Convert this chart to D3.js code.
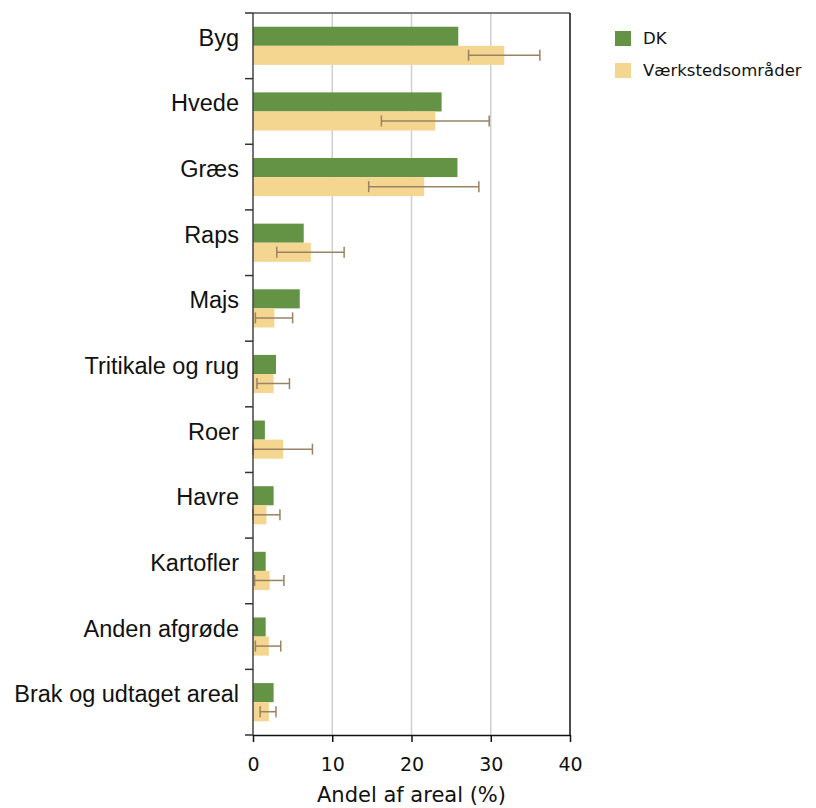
<!DOCTYPE html>
<html>
<head>
<meta charset="utf-8">
<script src="https://cdn.jsdelivr.net/npm/d3@7"></script>
<style>
  body { margin: 0; background: #fff; }
  svg { display: block; }
</style>
</head>
<body>
<svg id="chart" width="816" height="808"></svg>
<script>
// Crop shares of total area (%), national vs workshop areas
const categories = ["Byg", "Hvede", "Græs", "Raps", "Majs", "Tritikale og rug", "Roer", "Havre", "Kartofler", "Anden afgrøde", "Brak og udtaget areal"];
const dkValues = [25.9, 23.8, 25.8, 6.4, 5.9, 2.9, 1.5, 2.6, 1.6, 1.6, 2.6];
const workshopValues = [31.7, 23.0, 21.6, 7.3, 2.7, 2.6, 3.8, 1.7, 2.1, 2.0, 2.0];
const workshopLow = [27.2, 16.2, 14.6, 3.0, 0.3, 0.5, 0.0, 0.0, 0.2, 0.3, 0.9];
const workshopHigh = [36.2, 29.8, 28.5, 11.5, 5.0, 4.6, 7.5, 3.4, 3.9, 3.5, 2.9];
const xTicks = [0, 10, 20, 30, 40];
const seriesNames = ["DK", "Værkstedsområder"];
const colors = ["#659346", "#f4d690"];
const errColor = "#9a8262";

const roundFont = "'DejaVu Sans', Verdana, sans-serif";
const labelFont = "'Liberation Sans', Arial, sans-serif";

const svg = d3.select("#chart");
const margin = { left: 253, right: 246, top: 13, bottom: 73 };
const W = 816, H = 808;
const x0 = margin.left, x1 = W - margin.right;
const y0 = margin.top, y1 = H - margin.bottom;

const x = d3.scaleLinear().domain([0, 40]).range([x0, x1]);
const y = d3.scaleBand().domain(categories).range([y0, y1]);
const inner = d3.scaleBand().domain([0, 1]).range([0, y.bandwidth()]).paddingOuter(0.72).paddingInner(0);

// grid
svg.append("g").selectAll("line").data(xTicks.slice(1, -1)).join("line")
  .attr("x1", d => x(d)).attr("x2", d => x(d))
  .attr("y1", y0).attr("y2", y1)
  .attr("stroke", "#cfcfcf").attr("stroke-width", 1.5);

// bars
const rows = categories.map((c, i) => ({ c, v: [dkValues[i], workshopValues[i]], lo: workshopLow[i], hi: workshopHigh[i] }));
const g = svg.append("g");
rows.forEach(r => {
  r.v.forEach((v, k) => {
    g.append("rect")
      .attr("x", x(0)).attr("y", y(r.c) + inner(k))
      .attr("width", x(v) - x(0)).attr("height", inner.bandwidth())
      .attr("fill", colors[k]);
  });
  // error bar on the workshop series
  const cy = y(r.c) + inner(1) + inner.bandwidth() / 2;
  const eg = g.append("g").attr("stroke", errColor).attr("stroke-width", 1.5);
  eg.append("line").attr("x1", x(r.lo)).attr("x2", x(r.hi)).attr("y1", cy).attr("y2", cy);
  [r.lo, r.hi].forEach(v => {
    eg.append("line").attr("x1", x(v)).attr("x2", x(v)).attr("y1", cy - 5.5).attr("y2", cy + 5.5);
  });
});

// frame
svg.append("line").attr("x1", x0).attr("x2", x1).attr("y1", y0).attr("y2", y0).attr("stroke", "#555").attr("stroke-width", 1.5);
svg.append("line").attr("x1", x1).attr("x2", x1).attr("y1", y0).attr("y2", y1).attr("stroke", "#111").attr("stroke-width", 1.5);

// bottom axis
const xAxis = svg.append("g").attr("transform", `translate(0,${y1})`)
  .call(d3.axisBottom(x).tickValues(xTicks).tickSize(7).tickSizeOuter(0).tickPadding(16));
xAxis.select(".domain").attr("stroke", "#111").attr("stroke-width", 1.5);
xAxis.selectAll(".tick line").attr("stroke", "#111").attr("stroke-width", 1.5);
xAxis.selectAll("text").attr("font-family", roundFont).attr("font-size", 19).attr("fill", "#111");

// left axis with ticks at category boundaries
const bounds = categories.map(c => y(c)).concat([y1]);
svg.append("line").attr("x1", x0).attr("x2", x0).attr("y1", y0).attr("y2", y1).attr("stroke", "#444").attr("stroke-width", 1.5);
svg.append("g").selectAll("line").data(bounds).join("line")
  .attr("x1", x0 - 8).attr("x2", x0).attr("y1", d => d).attr("y2", d => d)
  .attr("stroke", "#333").attr("stroke-width", 1.5);

svg.append("g").selectAll("text").data(categories).join("text")
  .attr("x", 239).attr("y", d => y(d) + y.bandwidth() / 2 - 8)
  .attr("text-anchor", "end").attr("dominant-baseline", "central")
  .attr("font-family", labelFont).attr("font-size", 23.5).attr("fill", "#111")
  .text(d => d);

// x-axis title
svg.append("text").attr("x", (x0 + x1) / 2).attr("y", 802)
  .attr("text-anchor", "middle")
  .attr("font-family", roundFont).attr("font-size", 21).attr("fill", "#111")
  .text("Andel af areal (%)");

// legend
const lg = svg.append("g").attr("transform", "translate(615,31)");
seriesNames.forEach((s, i) => {
  lg.append("rect").attr("x", 0).attr("y", i * 32).attr("width", 16).attr("height", 15).attr("fill", colors[i]);
  lg.append("text").attr("x", 28).attr("y", i * 32 + 7.5)
    .attr("dominant-baseline", "central")
    .attr("font-family", roundFont).attr("font-size", 16.5).attr("fill", "#111")
    .text(s);
});
</script>
</body>
</html>
